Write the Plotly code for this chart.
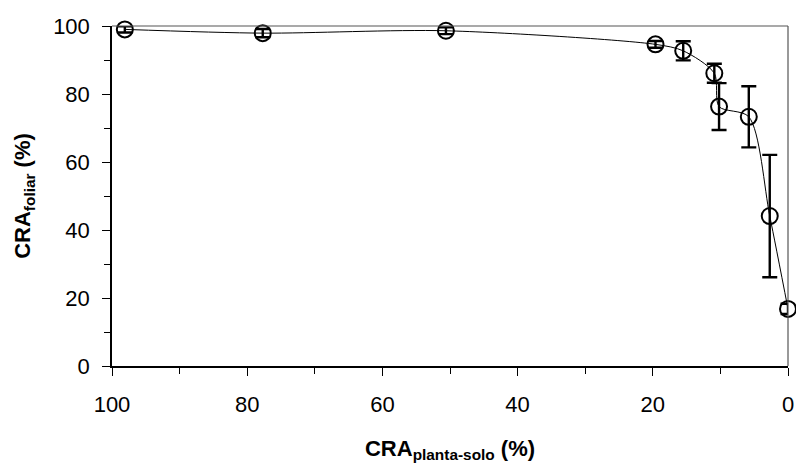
import plotly.graph_objects as go

# Data
cra_solo = [98.1, 77.7, 50.6, 19.6, 15.5, 10.9, 10.2, 5.8, 2.7, 0.0]
cra_foliar = [99.0, 97.9, 98.6, 94.6, 92.7, 86.1, 76.3, 73.3, 44.1, 16.8]
erro = [0.9, 1.2, 1.0, 1.0, 2.8, 2.8, 6.9, 9.0, 18.0, 1.5]

x_ticks = [100, 80, 60, 40, 20, 0]
y_ticks = [0, 20, 40, 60, 80, 100]

FONT = "Arial, Liberation Sans, sans-serif"

fig = go.Figure()

# smoothed connecting line
fig.add_trace(go.Scatter(
    x=cra_solo, y=cra_foliar, mode="lines",
    line=dict(color="#000000", width=1, shape="spline", smoothing=0.8),
    cliponaxis=False, showlegend=False, hoverinfo="skip",
))

# markers with error bars
fig.add_trace(go.Scatter(
    x=cra_solo, y=cra_foliar, mode="markers",
    marker=dict(symbol="circle-open", size=16, color="#000000",
                line=dict(color="#000000", width=2)),
    error_y=dict(type="data", array=erro, visible=True,
                 color="#000000", thickness=2.4, width=7.5),
    cliponaxis=False, showlegend=False,
))

fig.update_layout(
    width=796, height=466,
    margin=dict(l=112, r=8, t=26, b=100, autoexpand=False),
    paper_bgcolor="white", plot_bgcolor="white",
    font=dict(family=FONT, color="#000000"),
    showlegend=False,
    shapes=[
        dict(type="line", xref="paper", yref="paper", x0=0, x1=1, y0=1, y1=1,
             line=dict(color="#555555", width=1.2)),
        dict(type="line", xref="paper", yref="paper", x0=1, x1=1, y0=0, y1=1,
             line=dict(color="#555555", width=1.2)),
    ],
)

fig.update_xaxes(
    range=[100, 0], tickvals=x_ticks, ticktext=[str(v) for v in x_ticks],
    showgrid=False, zeroline=False,
    showline=True, linecolor="#000000", linewidth=1.5,
    ticks="outside", ticklen=8, tickwidth=1.2, tickcolor="#000000",
    minor=dict(dtick=10, tick0=0, ticks="outside", ticklen=6, tickwidth=1, tickcolor="#000000", showgrid=False),
    tickfont=dict(size=22, family=FONT),
    ticklabelstandoff=10,
    title=dict(text="<b>CRA<sub>planta-solo</sub> (%)</b>", font=dict(size=22, family=FONT), standoff=24),
    automargin=False,
)

fig.update_yaxes(
    range=[0, 100], tickvals=y_ticks, ticktext=[str(v) for v in y_ticks],
    showgrid=False, zeroline=False,
    showline=True, linecolor="#000000", linewidth=1.5,
    ticks="outside", ticklen=8, tickwidth=1.2, tickcolor="#000000",
    minor=dict(dtick=10, tick0=0, ticks="outside", ticklen=6, tickwidth=1, tickcolor="#000000", showgrid=False),
    tickfont=dict(size=22, family=FONT),
    ticklabelstandoff=8,
    title=dict(text="<b>CRA<sub>foliar</sub> (%)</b>", font=dict(size=22, family=FONT), standoff=16),
    automargin=False,
)

fig.write_html("out.html")
